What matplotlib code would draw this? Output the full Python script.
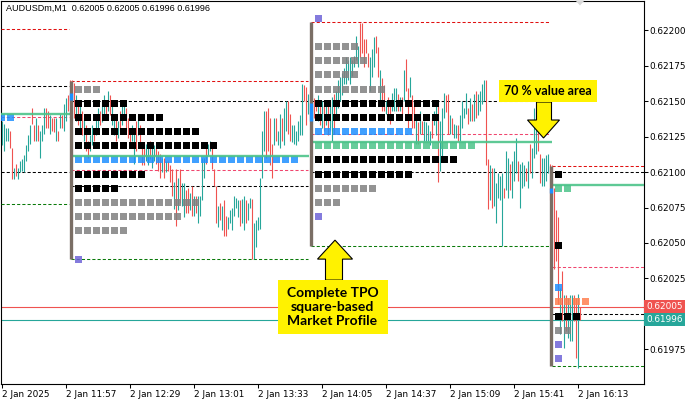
import matplotlib
matplotlib.use("Agg")
import matplotlib.pyplot as plt
from matplotlib.patches import Rectangle, Polygon
import matplotlib.transforms as mtransforms

plt.rcParams['font.family'] = ['DejaVu Sans']

# M1 candles, prices in points (1 point = 0.00001)
high_pts = [
    62136, 62134, 62131, 62131, 62129, 62117, 62103, 62106, 62103, 62108,
    62109, 62112, 62119, 62126, 62133, 62145, 62133, 62138, 62133, 62129,
    62133, 62145, 62145, 62143, 62140, 62138, 62138, 62138, 62129, 62141,
    62140, 62148, 62152, 62154, 62165, 62165, 62163, 62154, 62150, 62147,
    62143, 62138, 62133, 62122, 62126, 62133, 62131, 62140, 62145, 62143,
    62150, 62154, 62150, 62157, 62154, 62147, 62141, 62140, 62136, 62143,
    62147, 62150, 62145, 62138, 62129, 62133, 62129, 62136, 62140, 62133,
    62120, 62117, 62120, 62120, 62122, 62117, 62119, 62117, 62115, 62113,
    62110, 62110, 62108, 62108, 62105, 62102, 62093, 62102, 62096, 62102,
    62092, 62092, 62087, 62089, 62085, 62090, 62083, 62083, 62083, 62083,
    62110, 62110, 62117, 62120, 62122, 62117, 62102, 62090, 62076, 62078,
    62076, 62080, 62069, 62068, 62073, 62075, 62083, 62082, 62080, 62080,
    62081, 62083, 62080, 62078, 62082, 62081, 62064, 62066, 62068, 62096,
    62129, 62143, 62143, 62145, 62138, 62120, 62138, 62138, 62129, 62141,
    62138, 62145, 62150, 62150, 62141, 62133, 62133, 62129, 62136, 62140,
    62162, 62161, 62160, 62155, 62157, 62155, 62152, 62150, 62154, 62150,
    62150, 62147, 62150, 62147, 62150, 62153, 62155, 62157, 62165, 62167,
    62170, 62173, 62181, 62179, 62181, 62179, 62182, 62196, 62189, 62205,
    62205, 62194, 62194, 62184, 62181, 62187, 62195, 62196, 62188, 62172,
    62166, 62161, 62150, 62153, 62150, 62156, 62159, 62159, 62155, 62153,
    62153, 62172, 62180, 62159, 62167, 62154, 62150, 62138, 62135, 62143,
    62136, 62136, 62135, 62133, 62129, 62138, 62143, 62147, 62150, 62136,
    62145, 62156, 62154, 62155, 62140, 62138, 62134, 62133, 62133, 62140,
    62150, 62145, 62156, 62145, 62152, 62148, 62155, 62157, 62155, 62157,
    62162, 62165, 62165, 62109, 62105, 62103, 62103, 62092, 62099, 62097,
    62099, 62089, 62115, 62110, 62106, 62108, 62115, 62124, 62108, 62106,
    62107, 62105, 62103, 62108, 62120, 62117, 62145, 62142, 62133, 62113,
    62110, 62110, 62112, 62113, 62106, 62105, 62089, 62073, 62068, 62018,
    62030, 62013, 62013, 62011, 62013, 62013, 62013, 62011, 62014, 62005,
]
low_pts = [
    62119, 62115, 62122, 62122, 62117, 62095, 62095, 62097, 62095, 62100,
    62101, 62100, 62108, 62115, 62120, 62134, 62122, 62122, 62122, 62110,
    62122, 62127, 62131, 62131, 62127, 62129, 62128, 62122, 62122, 62131,
    62131, 62129, 62136, 62143, 62147, 62150, 62138, 62136, 62133, 62129,
    62126, 62122, 62115, 62110, 62115, 62119, 62122, 62126, 62131, 62133,
    62135, 62140, 62138, 62143, 62140, 62133, 62126, 62122, 62124, 62129,
    62133, 62138, 62129, 62124, 62120, 62122, 62106, 62115, 62126, 62119,
    62105, 62105, 62108, 62105, 62109, 62103, 62108, 62106, 62101, 62096,
    62100, 62096, 62100, 62101, 62093, 62083, 62074, 62062, 62073, 62078,
    62076, 62068, 62071, 62071, 62073, 62069, 62069, 62071, 62064, 62069,
    62080, 62096, 62106, 62112, 62115, 62102, 62090, 62064, 62061, 62066,
    62059, 62055, 62055, 62060, 62064, 62059, 62069, 62075, 62068, 62062,
    62064, 62059, 62064, 62066, 62075, 62039, 62039, 62047, 62059, 62060,
    62096, 62115, 62110, 62115, 62105, 62096, 62119, 62122, 62119, 62117,
    62122, 62119, 62129, 62127, 62122, 62121, 62120, 62119, 62122, 62126,
    62126, 62150, 62133, 62141, 62140, 62134, 62138, 62143, 62136, 62133,
    62131, 62129, 62133, 62126, 62129, 62122, 62127, 62140, 62145, 62150,
    62154, 62162, 62162, 62165, 62162, 62168, 62174, 62179, 62174, 62181,
    62184, 62174, 62184, 62174, 62157, 62167, 62174, 62184, 62167, 62150,
    62143, 62143, 62141, 62140, 62134, 62143, 62143, 62143, 62143, 62143,
    62138, 62150, 62157, 62131, 62153, 62131, 62131, 62120, 62120, 62127,
    62127, 62122, 62122, 62122, 62119, 62124, 62133, 62126, 62093, 62101,
    62108, 62138, 62142, 62127, 62127, 62127, 62124, 62124, 62122, 62122,
    62131, 62138, 62141, 62134, 62136, 62136, 62136, 62138, 62140, 62143,
    62148, 62150, 62105, 62074, 62080, 62075, 62076, 62064, 62082, 62080,
    62048, 62082, 62087, 62082, 62087, 62082, 62094, 62099, 62094, 62075,
    62089, 62090, 62094, 62089, 62099, 62096, 62110, 62113, 62115, 62092,
    62090, 62090, 62094, 62099, 62080, 62073, 62032, 62037, 62007, 61986,
    61995, 61976, 61988, 61983, 61981, 61981, 61995, 61969, 61962, 61996,
]
bar_dir = ("uuuudduduu" "uuuuuddudu" "uudduddudu" "duuddddudu" "dudduuduud"
           "uududuudud" "uuddduudud" "dduuduuddd" "ududddudud" "uuddududuu"
           "uuduudddud" "udduuuuuud" "uuduuduuuu" "uudddduduu" "duudduuuuu"
           "uddududdud" "ududuuduuu" "uuuuuuuuud" "dddduuuddu" "ddudduuudu"
           "dudduddudu" "duuuuduudu" "uudduduudu" "uuudududuu" "uudduduuuu"
           "uduuduuudu" "uududuuudd" "uuuudddddu" "duduuuddud")

tick_bars = [0, 32, 64, 96, 128, 160, 192, 224, 256, 288]
tick_labels = ['2 Jan 2025', '2 Jan 11:57', '2 Jan 12:29', '2 Jan 13:01', '2 Jan 13:33',
               '2 Jan 14:05', '2 Jan 14:37', '2 Jan 15:09', '2 Jan 15:41', '2 Jan 16:13']
price_ticks = [0.61975, 0.62000, 0.62025, 0.62050, 0.62075, 0.62100,
               0.62125, 0.62150, 0.62175, 0.62200]

bid = 0.62005
ask = 0.61996
header = 'AUDUSDm,M1  0.62005 0.62005 0.61996 0.61996'

# TPO profiles: row prices (points), squares per row, row colour key
p0_rows = [62138.5]
p0_counts = [2]
p0_cols = ['blue']

p1_rows = [62158.5, 62148.5, 62138.5, 62128.5, 62118.5, 62108.5,
           62098.5, 62088.5, 62078.5, 62068.5, 62058.5, 62038.5]
p1_counts = [3, 6, 10, 14, 16, 25, 8, 5, 14, 12, 6, 1]
p1_cols = ['gray', 'black', 'black', 'black', 'black', 'blue',
           'black', 'black', 'gray', 'gray', 'gray', 'purple']

p2_rows = [62208.5, 62188.5, 62178.5, 62168.5, 62158.5, 62148.5, 62138.5,
           62128.5, 62118.5, 62108.5, 62098.5, 62088.5, 62078.5, 62068.5]
p2_counts = [1, 5, 6, 5, 8, 14, 14, 11, 18, 16, 11, 7, 3, 1]
p2_cols = ['purple', 'gray', 'gray', 'gray', 'gray', 'black', 'black',
           'blue', 'green', 'black', 'black', 'gray', 'gray', 'purple']

p3_rows = [62098.5, 62088.5, 62048.5, 62018.5, 62008.5, 61998.5, 61988.5, 61978.5, 61968.5]
p3_counts = [1, 2, 1, 1, 4, 3, 2, 1, 1]
p3_cols = ['black', 'green', 'black', 'blue', 'orange', 'black', 'gray', 'purple', 'purple']

# session levels (points): high, upper VA, POC line, mid, lower VA, low
p0_levels = [62201, 62160.5, 62140.7, 62139, 62100, 62077.7]
p1_levels = [62164.5, 62150, 62111, 62101.5, 62090, 62039]
p2_levels = [62206, 62150, 62121, 62127, 62100, 62048]
p3_levels = [62104, 62100, 62091, 62033, 62000, 61963]
# session open marks on the profile bar (points)
p1_open = (62156, 62150.5)
p2_open = (62149, 62136)
p3_open = (62089, 62085)

square_colors = {'gray': '#808080', 'black': '#000000', 'blue': '#1e90ff',
                 'green': '#4cc38a', 'purple': '#6f64d8', 'orange': '#ff7f50'}
UP = '#26a69a'
DOWN = '#ef5350'
BAR_GREY = '#7a6e65'
YELLOW = '#fff200'

PX_X = 0.5                 # bars per pixel
PX_Y = 0.00001 / 1.4204    # price per pixel

fig = plt.figure(figsize=(6.86, 3.99), dpi=100)
ax = fig.add_axes([0.5 / 686, 15 / 399, 643 / 686, 383.5 / 399])
ax.set_xlim(-0.5, 321)
ax.set_ylim(0.619506, 0.622209)

# candles
xs = list(range(len(high_pts)))
cols = [UP if d == 'u' else DOWN for d in bar_dir]
ax.vlines(xs, [v / 1e5 for v in low_pts], [v / 1e5 for v in high_pts],
          colors=cols, lw=0.8, zorder=3.5)

# bid / ask lines
ax.axhline(bid, color=DOWN, lw=0.8, zorder=1.5)
ax.axhline(ask, color=UP, lw=0.8, zorder=1.5)

dash = (0, (3, 2))


def draw_levels(levels, x0, x1, poc_x1):
    hi, vah, poc, mid, val, lo = [v / 1e5 for v in levels]
    ax.hlines(hi, x0, x1, colors='#e01010', lw=0.75, linestyles=dash, zorder=3)
    ax.hlines([vah, val], x0, x1, colors='black', lw=0.75, linestyles=dash, zorder=3)
    ax.hlines(mid, x0, x1, colors='#f0466e', lw=0.75, linestyles=dash, zorder=3)
    ax.hlines(lo, x0, x1, colors='#0a7a0a', lw=0.75, linestyles=dash, zorder=3)
    ax.hlines(poc, x0, poc_x1, colors=square_colors['green'], lw=1.7, alpha=0.9, zorder=5)


def draw_squares(start, rows, counts, keys):
    h = 7 * PX_Y
    for r, n, k in zip(rows, counts, keys):
        a = 1.0 if k == 'black' else 0.85
        for j in range(n):
            ax.add_patch(Rectangle((start + j * 4.5, r / 1e5 - h / 2), 3.5, h,
                                   fc=square_colors[k], ec='none', alpha=a, zorder=4))


draw_levels(p0_levels, -0.5, 33.5, 34)
draw_levels(p1_levels, 34.5, 153, 153.5)
draw_levels(p2_levels, 154.5, 273.5, 275)
draw_levels(p3_levels, 275, 321, 321)

draw_squares(-2, p0_rows, p0_counts, p0_cols)
draw_squares(36.5, p1_rows, p1_counts, p1_cols)
draw_squares(156.5, p2_rows, p2_counts, p2_cols)
draw_squares(276.5, p3_rows, p3_counts, p3_cols)

# profile bars (session high to low) with open mark
for bx, lv, op in [(34.75, p1_levels, p1_open), (154.75, p2_levels, p2_open),
                   (274.75, p3_levels, p3_open)]:
    ax.vlines(bx, lv[5] / 1e5, lv[0] / 1e5, colors=BAR_GREY, lw=2.4, zorder=6)
    ax.vlines(bx, op[1] / 1e5, op[0] / 1e5, colors='#1e90ff', lw=2.4, zorder=6.5)


# annotations
def block_arrow(tip_x, tip_y, pts):
    poly = [(tip_x + dx * PX_X, tip_y - dy * PX_Y) for dx, dy in pts]
    ax.add_patch(Polygon(poly, closed=True, fc=YELLOW, ec='black', lw=0.8, zorder=10))


def yellow_box(cx, cy, w, h):
    ax.add_patch(Rectangle((cx - w / 2 * PX_X, cy - h / 2 * PX_Y), w * PX_X, h * PX_Y,
                           fc=YELLOW, ec='none', zorder=10))


up_pts = [(0, 0), (17.5, 19), (7.5, 19), (7.5, 40), (-9.5, 40), (-9.5, 19), (-17.5, 19)]
block_arrow(166.75, 0.62052, up_pts)
yellow_box(165.5, 0.62005, 110, 54)
ax.text(165.5, 0.62005, 'Complete TPO\nsquare-based\nMarket Profile', ha='center', va='center',
        family=['Lato', 'DejaVu Sans'], fontweight='bold', fontsize=10, linespacing=1.22,
        zorder=11)

down_pts = [(0, 0), (16, -18), (8, -18), (8, -36), (-7, -36), (-7, -18), (-16, -18)]
block_arrow(271, 0.62124, down_pts)
yellow_box(273, 0.621569, 98, 21.7)
ax.text(273, 0.621569, '70 % value area', ha='center', va='center',
        family=['Lato', 'DejaVu Sans'], fontweight='bold', fontsize=9, zorder=11)

# chart shift marker
ax.add_patch(Polygon([(287, 0.622209), (291.5, 0.622209), (289.25, 0.622209 - 5 * PX_Y)],
                     closed=True, fc='#d8d8d8', ec='none', zorder=10, clip_on=False))

ax.text(5 / 643, 1 - 3 / 383.5, header, transform=ax.transAxes, ha='left', va='top',
        family=['Liberation Sans', 'DejaVu Sans'], fontsize=6.5, color='black', zorder=12)

# axes
for s in ax.spines.values():
    s.set_linewidth(0.8)
    s.set_color('black')
ax.yaxis.tick_right()
ax.set_yticks(price_ticks)
ax.set_yticklabels([f'{v:.5f}' for v in price_ticks])
ax.tick_params(axis='y', length=3, width=0.75, pad=1.5, labelsize=6.4)
ax.set_xticks(tick_bars)
ax.set_xticklabels(tick_labels)
ax.tick_params(axis='x', length=3, width=0.75, pad=1.5, labelsize=6.4)
offset = mtransforms.ScaledTranslation(1 / 100, 0, fig.dpi_scale_trans)
for lbl in ax.get_xticklabels():
    lbl.set_ha('left')
    lbl.set_transform(lbl.get_transform() + offset)

# price tags on the right scale
ytr = mtransforms.blended_transform_factory(ax.transAxes, ax.transData)
for val, c in [(bid, DOWN), (ask, UP)]:
    ax.text(1.004, val, f'{val:.5f}', transform=ytr, ha='left', va='center', color='white',
            fontsize=6.4, clip_on=False, zorder=12,
            bbox=dict(boxstyle='square,pad=0.25', fc=c, ec='none'))

fig.savefig('out.png', dpi=100)
